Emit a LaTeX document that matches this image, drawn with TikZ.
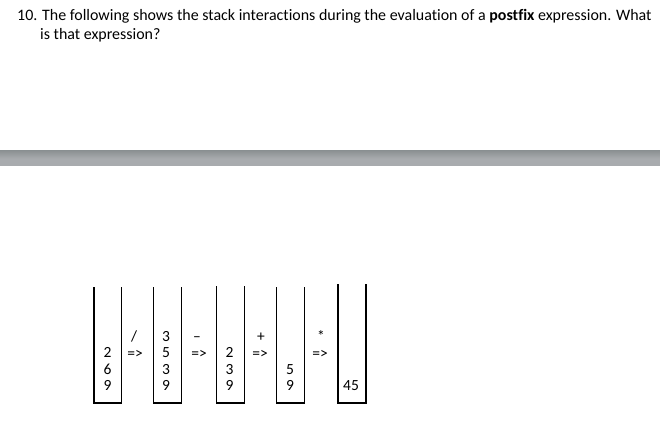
\documentclass[tikz,border=0pt]{standalone}
\usepackage{fontspec}
\setmainfont{Carlito}[Ligatures=NoCommon]
\definecolor{barmid}{HTML}{A8ABAE}
\definecolor{baredge}{HTML}{8D9294}
\begin{document}
\begin{tikzpicture}[x=1pt,y=-1pt,
  txt/.style={font=\fontsize{15.95}{19}\selectfont, inner sep=0pt, anchor=base west},
  num/.style={font=\fontsize{15.5}{19}\selectfont, inner sep=0pt, anchor=base},
  stk/.style={line width=1.8pt}]

\useasboundingbox (0,0) rectangle (660,430);

\node[txt] (q1) at (17,20.5) {10. The following shows the stack interactions during the evaluation of a \textbf{postfix} expression. What};
\node[txt] (q2) at (40,39.5) {is that expression?};

\shade[top color=baredge, bottom color=barmid, middle color=barmid] (0,151) rectangle (660,166);
\fill[baredge] (0,151) rectangle (660,152.5);

\def \bot{403};

\coordinate (A) at (94,287);
\coordinate (B) at (94,\bot);
\coordinate (C) at (121.5,\bot);
\coordinate (D) at (121.5,287);

\coordinate (AA) at (153.5,287);
\coordinate (BB) at (153.5,\bot);
\coordinate (CC) at (181.5,\bot);
\coordinate (DD) at (181.5,287);

\coordinate (AAA) at (216.5,286);
\coordinate (BBB) at (216.5,\bot);
\coordinate (CCC) at (244.5,\bot);
\coordinate (DDD) at (244.5,286);

\coordinate (X) at (276.5,287);
\coordinate (Y) at (276.5,\bot);
\coordinate (Z) at (304.5,\bot);
\coordinate (W) at (304.5,287);

\coordinate (XX) at (338,284);
\coordinate (YY) at (338,\bot);
\coordinate (ZZ) at (366,\bot);
\coordinate (WW) at (366,284);

\draw[stk] (A) -- (B) -- (C) -- (D);
\draw[stk] (AA) -- (BB) -- (CC) -- (DD);
\draw[stk] (AAA) -- (BBB) -- (CCC) -- (DDD);
\draw[stk] (X) -- (Y) -- (Z) -- (W);
\draw[stk] (XX) -- (YY) -- (ZZ) -- (WW);

\node[num] (a1) at (107.5,357.5) {2};
\node[num] (a2) at (107.5,374) {6};
\node[num] (a3) at (107.5,390.5) {9};

\node[num] (b1) at (166,341) {3};
\node[num] (b2) at (166,357.5) {5};
\node[num] (b3) at (166,374) {3};
\node[num] (b4) at (166,390.5) {9};

\node[num] (c1) at (229.5,357.5) {2};
\node[num] (c2) at (229.5,374) {3};
\node[num] (c3) at (229.5,390.5) {9};

\node[num] (d1) at (290,374) {5};
\node[num] (d2) at (290,390.5) {9};

\node[num] (e1) at (351,390.5) {45};

\node[num] (op1) at (134,341) {/};
\node[num] (ar1) at (135,358) {=>};
\node[num] (op2) at (197,341) {--};
\node[num] (ar2) at (199,358) {=>};
\node[num] (op3) at (261,341) {+};
\node[num] (ar3) at (260,358) {=>};
\node[num] (op4) at (321,341) {*};
\node[num] (ar4) at (320,358) {=>};

\end{tikzpicture}
\end{document}
